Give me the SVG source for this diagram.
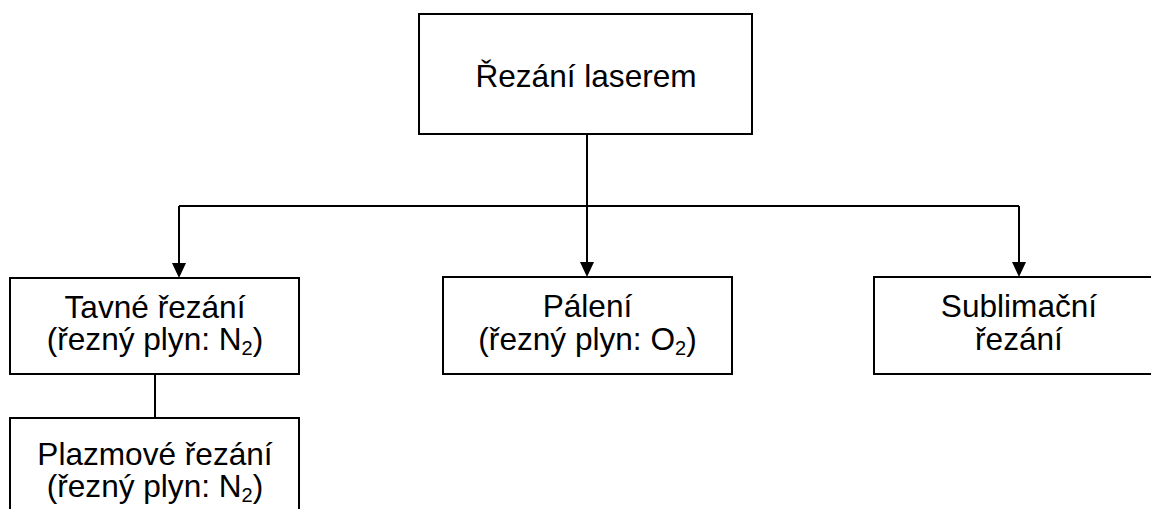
<svg xmlns="http://www.w3.org/2000/svg" width="1151" height="509" viewBox="0 0 1151 509">
<style>
.box{fill:#fff;stroke:#000;stroke-width:2}
.t{font-family:"Liberation Sans",Arial,sans-serif;font-size:31.6px;fill:#000;text-anchor:middle}
.sub{font-size:20px}
.c{fill:none;stroke:#000;stroke-width:2}
.ah{fill:#000}
</style>
<rect width="1151" height="509" fill="#fff"/>
<g id="connectors">
<path class="c" d="M587,134 V264"/>
<path class="c" d="M179,206 H1019"/>
<path class="c" d="M179,206 V265"/>
<path class="c" d="M1019,206 V264"/>
<path class="c" d="M155,374 V418"/>
<path class="ah" d="M580,262 L594,262 L587,277 Z"/>
<path class="ah" d="M172,263 L186,263 L179,278 Z"/>
<path class="ah" d="M1012,262 L1026,262 L1019,277 Z"/>
</g>
<g id="root">
<rect class="box" x="419" y="14" width="333" height="120"/>
<text class="t" x="586" y="87">Řezání laserem</text>
</g>
<g id="tavne">
<rect class="box" x="10" y="278" width="289" height="96"/>
<text class="t" x="155" y="318">Tavné řezání</text>
<text class="t" x="155" y="350">(řezný plyn: N<tspan class="sub" dy="5">2</tspan><tspan dy="-5">)</tspan></text>
</g>
<g id="paleni">
<rect class="box" x="443" y="277" width="289" height="97"/>
<text class="t" x="587.5" y="317">Pálení</text>
<text class="t" x="587.5" y="350">(řezný plyn: O<tspan class="sub" dy="5">2</tspan><tspan dy="-5">)</tspan></text>
</g>
<g id="sublimacni">
<rect class="box" x="874" y="277" width="289" height="97"/>
<text class="t" x="1019" y="317">Sublimační</text>
<text class="t" x="1019" y="350">řezání</text>
</g>
<g id="plazmove">
<rect class="box" x="10" y="418" width="289" height="100"/>
<text class="t" x="155" y="465">Plazmové řezání</text>
<text class="t" x="155" y="497">(řezný plyn: N<tspan class="sub" dy="5">2</tspan><tspan dy="-5">)</tspan></text>
</g>
</svg>
